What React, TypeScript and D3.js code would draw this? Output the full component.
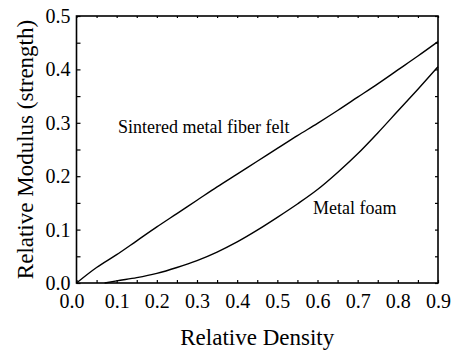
import React, { useEffect, useRef } from 'react'
import * as d3 from 'd3'

// sintered metal fiber felt
const feltDensity = [0, 0.05, 0.1, 0.15, 0.2, 0.25, 0.3, 0.35, 0.4, 0.45, 0.5, 0.55, 0.6, 0.65, 0.7, 0.75, 0.8, 0.85, 0.9]
const feltModulus = [0, 0.029, 0.053, 0.079, 0.105, 0.13, 0.155, 0.18, 0.204, 0.228, 0.252, 0.276, 0.299, 0.323, 0.348, 0.373, 0.399, 0.425, 0.452]

// metal foam
const foamDensity = [0.07, 0.1, 0.15, 0.2, 0.25, 0.3, 0.35, 0.4, 0.45, 0.5, 0.55, 0.6, 0.65, 0.7, 0.75, 0.8, 0.85, 0.9]
const foamModulus = [0, 0.004, 0.01, 0.018, 0.029, 0.042, 0.058, 0.077, 0.099, 0.123, 0.148, 0.175, 0.207, 0.242, 0.281, 0.322, 0.363, 0.405]

const xTicks = [0, 0.05, 0.1, 0.15, 0.2, 0.25, 0.3, 0.35, 0.4, 0.45, 0.5, 0.55, 0.6, 0.65, 0.7, 0.75, 0.8, 0.85, 0.9]
const yTicks = [0, 0.05, 0.1, 0.15, 0.2, 0.25, 0.3, 0.35, 0.4, 0.45, 0.5]

const W = 457
const H = 351
const left = 76.5
const right = 438
const top = 16
const bottom = 283
const font = '"Liberation Serif", "Times New Roman", Times, serif'

const isMajor = (d: number) => Math.abs(Math.round(d * 10) - d * 10) < 1e-6

const App = () => {
  const ref = useRef<SVGSVGElement>(null)

  useEffect(() => {
    const svg = d3.select(ref.current)
    svg.selectAll('*').remove()

    const x = d3.scaleLinear().domain([0, 0.9]).range([left, right])
    const y = d3.scaleLinear().domain([0, 0.5]).range([bottom, top])
    const fmt = d3.format('.1f')

    const xAxis = svg.append('g')
      .attr('transform', `translate(0,${bottom})`)
      .call(d3.axisBottom(x).tickValues(xTicks).tickSize(-3).tickPadding(11)
        .tickFormat((d: any) => (isMajor(d) ? fmt(d) : '')))
    xAxis.selectAll('text').filter((d: any) => d === 0).attr('dx', -5)

    svg.append('g')
      .attr('transform', `translate(${left},0)`)
      .call(d3.axisLeft(y).tickValues(yTicks).tickSize(-4).tickPadding(6)
        .tickFormat((d: any) => (isMajor(d) ? fmt(d) : '')))

    svg.append('g')
      .attr('transform', `translate(0,${top})`)
      .call(d3.axisTop(x).tickValues(xTicks).tickSize(-2).tickFormat(() => ''))

    svg.append('g')
      .attr('transform', `translate(${right},0)`)
      .call(d3.axisRight(y).tickValues(yTicks).tickSize(-3).tickFormat(() => ''))

    svg.selectAll('.domain').remove()
    svg.selectAll('g').attr('font-family', null).attr('font-size', null)
    svg.selectAll('.tick line').attr('stroke', '#000').attr('stroke-width', 1.2)
    svg.selectAll('.tick text')
      .style('font-family', font)
      .style('font-size', '20px')
      .attr('fill', '#000')

    svg.append('rect')
      .attr('x', left).attr('y', top)
      .attr('width', right - left).attr('height', bottom - top)
      .attr('fill', 'none').attr('stroke', '#000').attr('stroke-width', 1.6)

    const line = d3.line<[number, number]>()
      .x(d => x(d[0]))
      .y(d => y(d[1]))
      .curve(d3.curveMonotoneX)

    svg.append('path')
      .attr('d', line(feltDensity.map((d, i) => [d, feltModulus[i]]) as [number, number][]))
      .attr('fill', 'none').attr('stroke', '#000').attr('stroke-width', 1.4)

    svg.append('path')
      .attr('d', line(foamDensity.map((d, i) => [d, foamModulus[i]]) as [number, number][]))
      .attr('fill', 'none').attr('stroke', '#000').attr('stroke-width', 1.4)

    svg.append('text')
      .attr('x', 118).attr('y', 133)
      .style('font-family', font).style('font-size', '18px')
      .text('Sintered metal fiber felt')

    svg.append('text')
      .attr('x', 313).attr('y', 214)
      .style('font-family', font).style('font-size', '18px')
      .text('Metal foam')

    svg.append('text')
      .attr('x', (left + right) / 2).attr('y', 345)
      .attr('text-anchor', 'middle')
      .style('font-family', font).style('font-size', '23px')
      .text('Relative Density')

    svg.append('text')
      .attr('transform', `translate(33,${(top + bottom) / 2}) rotate(-90)`)
      .attr('text-anchor', 'middle')
      .style('font-family', font).style('font-size', '23px')
      .text('Relative Modulus (strength)')
  }, [])

  return (
    <svg ref={ref} width={W} height={H}
      style={{ position: 'absolute', left: 0, top: 0, background: '#fff' }} />
  )
}

export default App
